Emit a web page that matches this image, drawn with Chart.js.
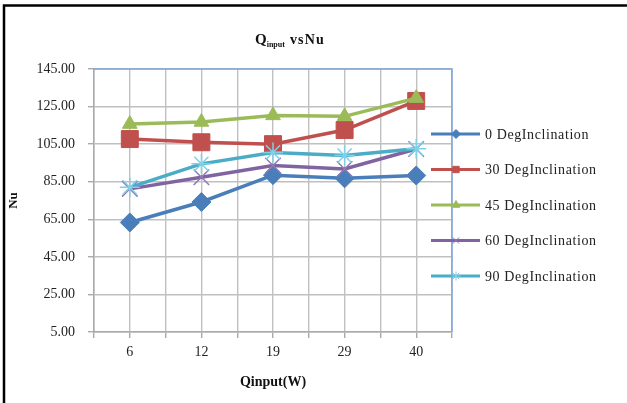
<!DOCTYPE html>
<html>
<head>
<meta charset="utf-8">
<script src="https://cdn.jsdelivr.net/npm/chart.js@4/dist/chart.umd.min.js"></script>
<style>
  html, body { margin: 0; padding: 0; background: #fff; }
  #wrap { width: 627px; height: 403px; }
</style>
</head>
<body>
<div id="wrap"><canvas id="myChart" width="627" height="403"></canvas></div>
<script>
// data
const qInput = ['6', '12', '19', '29', '40'];
const labels = ['0 DegInclination', '30 DegInclination', '45 DegInclination', '60 DegInclination', '90 DegInclination'];
const nu0  = [63.3, 74.2, 88.5, 86.8, 88.3];
const nu30 = [107.7, 106.0, 105.0, 112.5, 128.0];
const nu45 = [115.7, 116.8, 120.3, 119.8, 129.5];
const nu60 = [81.2, 87.4, 93.6, 91.8, 102.4];
const nu90 = [82.0, 94.5, 100.6, 98.9, 102.6];

const colors = ['#4a7ebb', '#c0504d', '#9bbb59', '#8064a2', '#4bacc6'];
const markerColors = ['#4a7ebb', '#c0504d', '#9bbb59', '#8f7bb5', '#7fd0e8'];
const styles = ['rectRot', 'rect', 'triangle', 'crossRot', 'star'];
const radii = [9.5, 12, 8.5, 11, 10];
const series = [nu0, nu30, nu45, nu60, nu90];

const serif = "'Liberation Serif', 'Times New Roman', serif";

const datasets = series.map((vals, i) => ({
  label: labels[i],
  data: vals.map((v, j) => ({ x: j, y: v })),
  borderColor: colors[i],
  backgroundColor: markerColors[i],
  pointBorderColor: markerColors[i],
  pointBackgroundColor: markerColors[i],
  borderWidth: 3.5,
  pointStyle: styles[i],
  pointRadius: radii[i],
  pointBorderWidth: (i > 2) ? 1.5 : 1,
  order: 5 - i,
  tension: 0
}));

// frame, title, plot border and legend
const extras = {
  id: 'extras',
  afterDraw(chart) {
    const ctx = chart.ctx;
    const a = chart.chartArea;
    ctx.save();
    // blue top + right border of plot
    ctx.strokeStyle = '#7fa7da';
    ctx.lineWidth = 1.5;
    ctx.beginPath();
    ctx.moveTo(a.left, a.top);
    ctx.lineTo(a.right, a.top);
    ctx.lineTo(a.right, a.bottom);
    ctx.stroke();

    // outer black frame (top + left only)
    ctx.strokeStyle = '#000';
    ctx.lineWidth = 2.5;
    ctx.beginPath();
    ctx.moveTo(4, 403);
    ctx.lineTo(4, 5.5);
    ctx.lineTo(627, 5.5);
    ctx.stroke();

    // title with subscript
    ctx.fillStyle = '#111';
    ctx.textBaseline = 'alphabetic';
    ctx.textAlign = 'left';
    let x = 255;
    ctx.font = 'bold 15px ' + serif;
    ctx.fillText('Q', x, 44);
    x += ctx.measureText('Q').width;
    ctx.font = 'bold 8px ' + serif;
    ctx.fillText('input', x, 47);
    x += ctx.measureText('input').width + 5;
    ctx.font = 'bold 14px ' + serif;
    ctx.letterSpacing = '1.2px';
    ctx.fillText('vsNu', x, 44);
    ctx.letterSpacing = '0px';

    // legend
    chart.data.datasets.forEach((ds, i) => {
      const y = 134 + i * 35.5;
      ctx.strokeStyle = ds.borderColor;
      ctx.lineWidth = 3;
      ctx.beginPath();
      ctx.moveTo(431, y);
      ctx.lineTo(480, y);
      ctx.stroke();
      ctx.fillStyle = ds.pointBackgroundColor;
      ctx.strokeStyle = ds.pointBorderColor;
      ctx.lineWidth = 1;
      Chart.helpers.drawPoint(ctx, { pointStyle: ds.pointStyle, radius: 4.5, borderWidth: 1 }, 456, y);
      ctx.fillStyle = '#222';
      ctx.font = '14px ' + serif;
      ctx.letterSpacing = '0.6px';
      ctx.textBaseline = 'middle';
      ctx.fillText(ds.label, 485, y + 1);
      ctx.letterSpacing = '0px';
    });
    ctx.restore();
  }
};

const config = {
  type: 'line',
  data: { datasets },
  options: {
    responsive: false,
    animation: false,
    layout: { padding: { top: 69, right: 175, left: 0, bottom: 0 } },
    plugins: { legend: { display: false }, title: { display: false }, tooltip: { enabled: false } },
    scales: {
      x: {
        type: 'linear',
        min: -0.5,
        max: 4.5,
        afterFit(s) { s.height = 71; },
        afterBuildTicks(s) {
          const t = [];
          for (let v = -0.5; v <= 4.5001; v += 0.5) t.push({ value: v });
          s.ticks = t;
        },
        ticks: {
          autoSkip: false,
          maxRotation: 0,
          padding: 6,
          color: '#222',
          font: { family: serif, size: 14 },
          callback: (v) => Number.isInteger(v) ? qInput[v] : ''
        },
        grid: { color: '#c0c0c0', lineWidth: 1.4, tickLength: 6, tickColor: '#aaa' },
        border: { color: '#aaa', width: 1.5 },
        title: {
          display: true,
          text: 'Qinput(W)',
          color: '#111',
          font: { family: serif, size: 14, weight: 'bold' },
          padding: { top: 0, bottom: 12 }
        }
      },
      y: {
        min: 5,
        max: 145,
        afterFit(s) { s.width = 94; },
        ticks: {
          stepSize: 20,
          padding: 13,
          color: '#222',
          font: { family: serif, size: 14 },
          callback: (v) => v.toFixed(2)
        },
        grid: { color: '#c0c0c0', lineWidth: 1.4, tickLength: 6, tickColor: '#aaa' },
        border: { color: '#aaa', width: 1.5 },
        title: {
          display: true,
          text: 'Nu',
          color: '#111',
          font: { family: serif, size: 13, weight: 'bold' },
          padding: { top: 6, bottom: 0 }
        }
      }
    }
  },
  plugins: [extras]
};

const myChart = new Chart(document.getElementById('myChart'), config);
</script>
</body>
</html>
